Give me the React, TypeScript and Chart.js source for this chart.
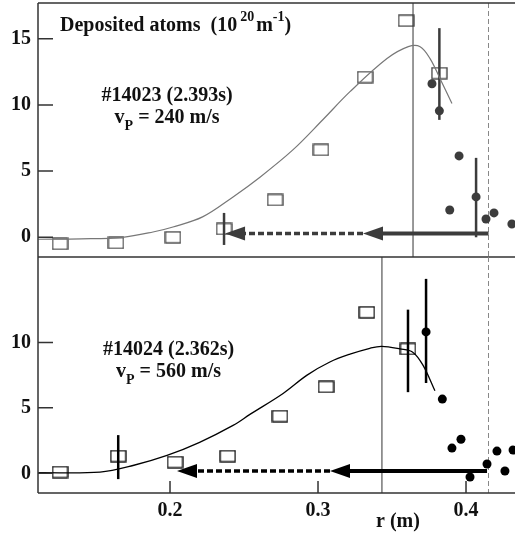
import React, { useEffect, useRef } from "react";
import { Chart, registerables } from "chart.js";

Chart.register(...registerables);

const SERIF = '"Liberation Serif", "Times New Roman", serif';

// ---- shared radial axis r (m) ----
const xRange = [0.1108, 0.4331];
const xTickValues = [0.2, 0.3, 0.4];
const wallR = 0.4152; // dashed vertical line (both panels)

// ---- top panel: #14023 ----
const topYRange = [-1.49, 17.7];
const topYTicks = [0, 5, 10, 15];
const topCurveR = [0.111, 0.14, 0.168, 0.1885, 0.202, 0.222, 0.2426, 0.261, 0.283, 0.3034, 0.3216, 0.3466, 0.361, 0.369, 0.3757, 0.3824, 0.3905];
const topCurveN = [-0.15, -0.12, 0.0, 0.4, 0.78, 1.54, 3.05, 4.56, 6.6, 8.9, 11.0, 13.5, 14.4, 14.4, 13.5, 12.0, 10.1];
const topSquareR = [0.1257, 0.1635, 0.202, 0.2365, 0.271, 0.302, 0.3318, 0.3595, 0.382];
const topSquareN = [-0.5, -0.43, 0.0, 0.63, 2.82, 6.6, 12.1, 16.36, 12.4];
const topCircleR = [0.377, 0.382, 0.389, 0.3953, 0.4068, 0.4135, 0.4189, 0.431];
const topCircleN = [11.6, 9.55, 2.06, 6.15, 3.05, 1.38, 1.84, 1.0];
const topErrR = [0.2365, 0.382, 0.4068];
const topErrLow = [-0.58, 8.87, 0.0];
const topErrHigh = [1.84, 15.8, 6.0];
const topArrowR = [0.4152, 0.3304, 0.2372]; // start, solid head tip, dashed head tip
const topArrowN = 0.29;
const topSepR = 0.3642;

// ---- bottom panel: #14024 ----
const botYRange = [-1.5, 16.52];
const botYTicks = [0, 5, 10];
const botCurveR = [0.111, 0.1527, 0.175, 0.198, 0.22, 0.2426, 0.254, 0.2764, 0.2926, 0.308, 0.3216, 0.335, 0.343, 0.3554, 0.364, 0.371, 0.379];
const botCurveN = [0.05, 0.1, 0.6, 1.37, 2.37, 3.66, 4.5, 6.1, 7.5, 8.5, 9.1, 9.55, 9.7, 9.5, 9.25, 8.24, 6.3];
const botSquareR = [0.1257, 0.165, 0.2034, 0.239, 0.2743, 0.3054, 0.333, 0.3608];
const botSquareN = [0.1, 1.32, 0.86, 1.32, 4.37, 6.6, 12.3, 9.5];
const botCircleR = [0.373, 0.384, 0.3905, 0.3966, 0.4027, 0.4142, 0.4209, 0.4263, 0.4318];
const botCircleN = [10.8, 5.67, 1.93, 2.6, -0.28, 0.71, 1.7, 0.18, 1.78];
const botErrR = [0.165, 0.3608, 0.373];
const botErrLow = [-0.44, 6.2, 6.9];
const botErrHigh = [2.92, 12.5, 14.85];
const botArrowR = [0.4142, 0.3081, 0.2047];
const botArrowN = 0.18;
const botSepR = 0.3432;

type Seg = { t: string; s: number; dy?: number; gap?: number };

function segWidth(ctx: CanvasRenderingContext2D, segs: Seg[]) {
  let w = 0;
  for (const g of segs) {
    ctx.font = `bold ${g.s}px ${SERIF}`;
    w += (g.gap || 0) + ctx.measureText(g.t).width;
  }
  return w;
}

function drawSegs(ctx: CanvasRenderingContext2D, segs: Seg[], x: number, y: number, center: boolean) {
  let cx = center ? x - segWidth(ctx, segs) / 2 : x;
  ctx.textAlign = "left";
  ctx.textBaseline = "alphabetic";
  for (const g of segs) {
    ctx.font = `bold ${g.s}px ${SERIF}`;
    cx += g.gap || 0;
    ctx.fillText(g.t, cx, y + (g.dy || 0));
    cx += ctx.measureText(g.t).width;
  }
}

function makeRect(w: number, h: number, color: string, lw: number) {
  const c = document.createElement("canvas");
  c.width = w + 2;
  c.height = h + 2;
  const g = c.getContext("2d")!;
  g.strokeStyle = color;
  g.lineWidth = lw;
  g.strokeRect(1, 1, w, h);
  return c;
}

interface PanelSpec {
  yRange: number[];
  yTicks: number[];
  curveR: number[];
  curveN: number[];
  sqR: number[];
  sqN: number[];
  cirR: number[];
  cirN: number[];
  errR: number[];
  errLo: number[];
  errHi: number[];
  arrowR: number[];
  arrowN: number;
  sepR: number;
  curveColor: string;
  curveWidth: number;
  markColor: string;
  shot: string;
  speed: string;
  labelR: number;
  label1N: number;
  label2N: number;
  isTop: boolean;
}

function buildChart(canvas: HTMLCanvasElement, p: PanelSpec) {
  const rectImg = makeRect(15, 11, p.markColor, 1.3);
  const pts = (xs: number[], ys: number[]) => xs.map((x, i) => ({ x, y: ys[i] }));

  const decor = {
    id: "decor" + (p.isTop ? "Top" : "Bot"),
    beforeDatasetsDraw(chart: any) {
      const { ctx, chartArea: a, scales } = chart;
      const X = scales.x, Y = scales.y;
      ctx.save();
      // separator (solid) line
      ctx.strokeStyle = "#333";
      ctx.lineWidth = 1;
      ctx.beginPath();
      const xs = X.getPixelForValue(p.sepR);
      ctx.moveTo(xs, a.top);
      ctx.lineTo(xs, a.bottom);
      ctx.stroke();
      // dashed wall line
      ctx.strokeStyle = "#888";
      ctx.setLineDash([5, 3]);
      const xw = X.getPixelForValue(wallR);
      ctx.beginPath();
      ctx.moveTo(xw, a.top);
      ctx.lineTo(xw, a.bottom);
      ctx.stroke();
      ctx.setLineDash([]);
      // arrows
      const ay = Y.getPixelForValue(p.arrowN);
      const x0 = X.getPixelForValue(p.arrowR[0]);
      const x1 = X.getPixelForValue(p.arrowR[1]);
      const x2 = X.getPixelForValue(p.arrowR[2]);
      ctx.strokeStyle = p.markColor;
      ctx.fillStyle = p.markColor;
      const head = (tip: number) => {
        ctx.beginPath();
        ctx.moveTo(tip, ay);
        ctx.lineTo(tip + 20, ay - 7);
        ctx.lineTo(tip + 20, ay + 7);
        ctx.closePath();
        ctx.fill();
      };
      ctx.lineWidth = 4;
      ctx.beginPath();
      ctx.moveTo(x0, ay);
      ctx.lineTo(x1 + 18, ay);
      ctx.stroke();
      head(x1);
      ctx.lineWidth = 3.5;
      ctx.setLineDash([6, 3]);
      ctx.beginPath();
      ctx.moveTo(x1, ay);
      ctx.lineTo(x2 + 18, ay);
      ctx.stroke();
      ctx.setLineDash([]);
      head(x2);
      // error bars
      ctx.lineWidth = 2.5;
      p.errR.forEach((r, i) => {
        const ex = X.getPixelForValue(r);
        ctx.beginPath();
        ctx.moveTo(ex, Y.getPixelForValue(p.errLo[i]));
        ctx.lineTo(ex, Y.getPixelForValue(p.errHi[i]));
        ctx.stroke();
      });
      ctx.restore();
    },
    afterDraw(chart: any) {
      const { ctx, chartArea: a, scales } = chart;
      const X = scales.x, Y = scales.y;
      ctx.save();
      ctx.strokeStyle = "#333";
      ctx.lineWidth = 1.5;
      ctx.beginPath();
      ctx.moveTo(a.left, a.top);
      ctx.lineTo(a.left, a.bottom);
      if (p.isTop) {
        ctx.moveTo(a.left, a.top);
        ctx.lineTo(a.right, a.top);
      }
      ctx.moveTo(a.left, a.bottom);
      ctx.lineTo(a.right, a.bottom);
      ctx.stroke();
      // y tick marks (inside)
      ctx.beginPath();
      p.yTicks.forEach((v) => {
        const y = Y.getPixelForValue(v);
        ctx.moveTo(a.left, y);
        ctx.lineTo(a.left + 15, y);
      });
      if (!p.isTop) {
        xTickValues.forEach((v) => {
          const x = X.getPixelForValue(v);
          ctx.moveTo(x, a.bottom);
          ctx.lineTo(x, a.bottom - 12);
        });
      }
      ctx.stroke();
      // texts
      ctx.fillStyle = "#111";
      const lx = X.getPixelForValue(p.labelR);
      drawSegs(ctx, [{ t: p.shot, s: 20 }], lx, Y.getPixelForValue(p.label1N), true);
      drawSegs(
        ctx,
        [
          { t: "v", s: 20 },
          { t: "P", s: 14, dy: 7 },
          { t: " = " + p.speed, s: 20 },
        ],
        lx,
        Y.getPixelForValue(p.label2N),
        true
      );
      if (p.isTop) {
        drawSegs(
          ctx,
          [
            { t: "Deposited atoms  (10", s: 20 },
            { t: "20", s: 14, dy: -10, gap: 3 },
            { t: "m", s: 20, gap: 2 },
            { t: "-1", s: 14, dy: -10 },
            { t: ")", s: 20 },
          ],
          a.left + 22,
          a.top + 28,
          false
        );
      } else {
        drawSegs(ctx, [{ t: "r (m)", s: 20 }], X.getPixelForValue(0.354), a.bottom + 34, true);
      }
      ctx.restore();
    },
  };

  const tickFont = { family: SERIF, size: 20, weight: "bold" as const };

  return new Chart(canvas, {
    type: "scatter",
    data: {
      datasets: [
        {
          data: pts(p.curveR, p.curveN),
          showLine: true,
          borderColor: p.curveColor,
          borderWidth: p.curveWidth,
          pointRadius: 0,
          tension: 0.35,
          fill: false,
        },
        {
          data: pts(p.sqR, p.sqN),
          pointStyle: rectImg as any,
          pointRadius: 8,
        },
        {
          data: pts(p.cirR, p.cirN),
          pointStyle: "circle",
          pointRadius: 4.5,
          backgroundColor: p.markColor,
          borderWidth: 0,
        },
      ],
    },
    options: {
      animation: false,
      responsive: false,
      events: [],
      layout: {
        autoPadding: false,
        padding: { top: p.isTop ? 3 : 0, bottom: p.isTop ? 3 : 0, left: 0, right: 0 },
      },
      plugins: { legend: { display: false }, tooltip: { enabled: false } },
      scales: {
        x: {
          type: "linear",
          min: xRange[0],
          max: xRange[1],
          display: !p.isTop,
          grid: { display: false, drawTicks: false },
          border: { display: false },
          ticks: {
            font: tickFont,
            color: "#111",
            padding: 6,
            callback: (v: any) => Number(v).toFixed(1),
          },
          afterBuildTicks: (s: any) => {
            s.ticks = xTickValues.map((v) => ({ value: v }));
          },
          afterFit: (s: any) => {
            s.height = p.isTop ? 0 : 41;
            s.paddingLeft = 0;
            s.paddingRight = 0;
          },
        },
        y: {
          type: "linear",
          min: p.yRange[0],
          max: p.yRange[1],
          grid: { display: false, drawTicks: false },
          border: { display: false },
          ticks: {
            font: tickFont,
            color: "#111",
            padding: 7,
            callback: (v: any) => String(v),
          },
          afterBuildTicks: (s: any) => {
            s.ticks = p.yTicks.map((v) => ({ value: v }));
          },
          afterFit: (s: any) => {
            s.width = 38;
            s.paddingTop = 0;
            s.paddingBottom = 0;
          },
        },
      },
    },
    plugins: [decor],
  } as any);
}

export default function App() {
  const topRef = useRef<HTMLCanvasElement>(null);
  const botRef = useRef<HTMLCanvasElement>(null);

  useEffect(() => {
    const top = buildChart(topRef.current!, {
      yRange: topYRange,
      yTicks: topYTicks,
      curveR: topCurveR,
      curveN: topCurveN,
      sqR: topSquareR,
      sqN: topSquareN,
      cirR: topCircleR,
      cirN: topCircleN,
      errR: topErrR,
      errLo: topErrLow,
      errHi: topErrHigh,
      arrowR: topArrowR,
      arrowN: topArrowN,
      sepR: topSepR,
      curveColor: "#777",
      curveWidth: 1.2,
      markColor: "#3c3c3c",
      shot: "#14023 (2.393s)",
      speed: "240 m/s",
      labelR: 0.198,
      label1N: 10.27,
      label2N: 8.65,
      isTop: true,
    });
    const bot = buildChart(botRef.current!, {
      yRange: botYRange,
      yTicks: botYTicks,
      curveR: botCurveR,
      curveN: botCurveN,
      sqR: botSquareR,
      sqN: botSquareN,
      cirR: botCircleR,
      cirN: botCircleN,
      errR: botErrR,
      errLo: botErrLow,
      errHi: botErrHigh,
      arrowR: botArrowR,
      arrowN: botArrowN,
      sepR: botSepR,
      curveColor: "#000",
      curveWidth: 1.3,
      markColor: "#000",
      shot: "#14024 (2.362s)",
      speed: "560 m/s",
      labelR: 0.199,
      label1N: 9.07,
      label2N: 7.39,
      isTop: false,
    });
    return () => {
      top.destroy();
      bot.destroy();
    };
  }, []);

  return (
    <div style={{ position: "absolute", left: 0, top: 0, width: 515, height: 534, background: "#fff" }}>
      <canvas ref={topRef} width={515} height={260} style={{ position: "absolute", left: 0, top: 0 }} />
      <canvas ref={botRef} width={515} height={277} style={{ position: "absolute", left: 0, top: 257 }} />
    </div>
  );
}
